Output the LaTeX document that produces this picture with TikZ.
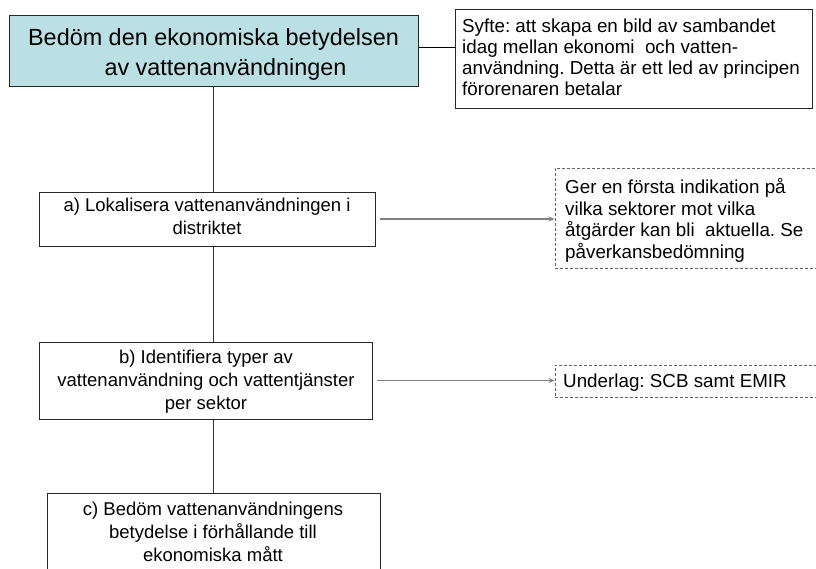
\documentclass[tikz,border=0pt]{standalone}
\usepackage{fontspec}
\setmainfont{Liberation Sans}
\usetikzlibrary{arrows.meta}
\frenchspacing
\definecolor{topfill}{RGB}{186,224,228}
\definecolor{linegray}{RGB}{128,128,128}
\definecolor{dashgray}{RGB}{100,100,100}
\tikzset{
  boxshape/.style={draw=black!85, line width=1pt, inner sep=0pt},
  dashbox/.style={draw=dashgray, line width=0.9pt, dash pattern=on 3pt off 2pt, inner sep=0pt},
  bigtext/.style={inner sep=0pt, align=center, font=\fontsize{23.4}{29.5}\selectfont},
  smalltext/.style={inner sep=0pt, align=center, font=\fontsize{18.5}{23}\selectfont},
  notetext/.style={inner sep=0pt, align=left, font=\fontsize{18.8}{21.5}\selectfont},
  syftetextstyle/.style={inner sep=0pt, align=left, font=\fontsize{18.8}{20.8}\selectfont},
  vline/.style={draw=black!80, line width=1pt},
  hline/.style={draw=black, line width=1pt},
  arrowline/.style={draw=linegray, line width=1.3pt, -{Stealth[length=6pt,width=5pt]}, shorten <=4pt},
}
\begin{document}
\begin{tikzpicture}[x=1pt,y=-1pt]
\useasboundingbox (0,0) rectangle (816,568);
\clip (0,0) rectangle (816,568);
% boxes
\node[boxshape, fill=topfill, minimum width=409pt, minimum height=71pt] (top) at (213.5,50.5) {};
\node[boxshape, minimum width=357pt, minimum height=99pt] (syfte) at (633.5,58.5) {};
\node[boxshape, minimum width=336pt, minimum height=54pt] (a) at (207,219) {};
\node[dashbox, minimum width=275pt, minimum height=100pt] (d1) at (692.5,218) {};
\node[boxshape, minimum width=333pt, minimum height=77pt] (b) at (205.5,380.5) {};
\node[dashbox, minimum width=275pt, minimum height=32pt] (d2) at (692.5,381) {};
\node[boxshape, minimum width=333pt, minimum height=107pt] (c) at (213.5,546.5) {};
% texts (base anchor = baseline of the last line)
\node[bigtext, anchor=base] (toptext) at (213.5,75) {Bedöm den ekonomiska betydelsen\\\hspace*{24pt}av vattenanvändningen};
\node[syftetextstyle, anchor=base west] (syftetext) at (462,95) {Syfte: att skapa en bild av sambandet\\idag mellan ekonomi\ \ och vatten-\\användning. Detta är ett led av principen\\förorenaren betalar};
\node[smalltext, anchor=base] (atext) at (207,234) {a) Lokalisera vattenanvändningen i\\distriktet};
\node[notetext, anchor=base west] (d1text) at (565,258) {Ger en första indikation på\\vilka sektorer mot vilka\\åtgärder kan bli\ \ aktuella. Se\\påverkansbedömning};
\node[smalltext, anchor=base] (btext) at (206,409) {b) Identifiera typer av\\vattenanvändning och vattentjänster\\per sektor};
\node[notetext, anchor=base west] (d2text) at (563,387) {Underlag: SCB samt EMIR};
\node[smalltext, anchor=base] (ctext) at (213,561) {c) Bedöm vattenanvändningens\\betydelse i förhållande till\\ekonomiska mått};
% connectors
\draw[hline] ([yshift=3.5pt]top.east) -- ([yshift=3.5pt]top.east -| syfte.west);
\draw[vline] ([xshift=-0.5pt]top.south) -- ([xshift=-0.5pt]top.south |- a.north);
\draw[vline] ([xshift=-0.5pt]top.south |- a.south) -- ([xshift=-0.5pt]top.south |- b.north);
\draw[vline] ([xshift=-0.5pt]top.south |- b.south) -- ([xshift=-0.5pt]top.south |- c.north);
\draw[arrowline] (a.east) -- (a.east -| d1.west);
\draw[arrowline] (b.east) -- (b.east -| d2.west);
\end{tikzpicture}
\end{document}
